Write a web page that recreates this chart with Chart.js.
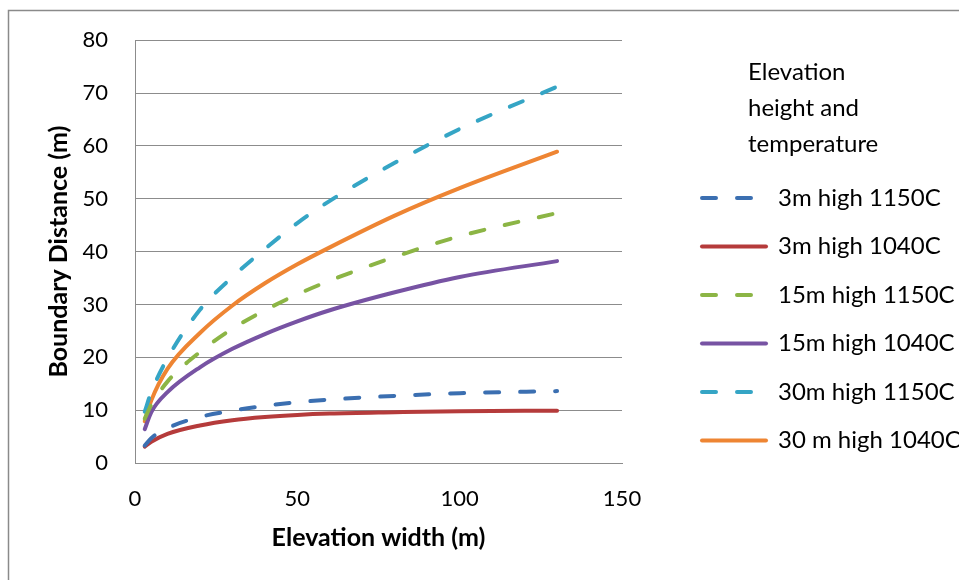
<!DOCTYPE html>
<html>
<head>
<meta charset="utf-8">
<script src="https://cdn.jsdelivr.net/npm/chart.js@4.4.1/dist/chart.umd.min.js"></script>
<style>
html,body{margin:0;padding:0;background:#fff;}
#wrap{position:relative;width:959px;height:580px;overflow:hidden;}
</style>
</head>
<body>
<div id="wrap"><canvas id="c" width="959" height="580"></canvas></div>
<script>
// ---- data ----
const widths = [3, 5, 10, 20, 30, 40, 50, 60, 80, 100, 130];
const h3_1150  = [3.3, 4.7, 6.6, 8.7, 9.9, 10.8, 11.5, 12.0, 12.7, 13.2, 13.6];
const h3_1040  = [3.1, 4.0, 5.5, 7.1, 8.1, 8.7, 9.1, 9.35, 9.6, 9.8, 9.9];
const h15_1150 = [8.4, 11.0, 15.4, 21.0, 25.4, 28.9, 31.9, 34.5, 39.0, 42.9, 47.3];
const h15_1040 = [6.4, 9.6, 13.4, 18.1, 21.6, 24.4, 26.8, 28.9, 32.3, 35.2, 38.2];
const h30_1150 = [9.7, 13.4, 19.8, 29.0, 35.2, 40.5, 45.4, 49.6, 56.8, 63.2, 71.2];
const h30_1040 = [7.9, 11.8, 17.8, 24.6, 29.8, 34.0, 37.6, 40.8, 46.8, 52.0, 58.9];
const seriesNames = ['3m high 1150C', '3m high 1040C', '15m high 1150C', '15m high 1040C', '30m high 1150C', '30 m high 1040C'];
const xTicks = [0, 50, 100, 150];
const yTicks = [0, 10, 20, 30, 40, 50, 60, 70, 80];
const legendTitle = ['Elevation', 'height and', 'temperature'];
const xTitle = 'Elevation width (m)';
const yTitle = 'Boundary Distance (m)';

const seriesValues = [h3_1150, h3_1040, h15_1150, h15_1040, h30_1150, h30_1040];
const seriesColors = ['#3b6fb1', '#b53b3b', '#8cb545', '#7753a3', '#35a5c5', '#ee8533'];
const seriesDashed = [true, false, true, false, true, false];

const datasets = seriesValues.map((vals, i) => ({
  label: seriesNames[i],
  data: widths.map((w, j) => ({x: w, y: vals[j]})),
  borderColor: seriesColors[i],
  backgroundColor: seriesColors[i],
  borderWidth: 4,
  borderDash: seriesDashed[i] ? [14, 21] : [],
  borderCapStyle: 'round',
  borderJoinStyle: 'round',
  pointRadius: 0,
  pointHoverRadius: 0,
  cubicInterpolationMode: 'monotone',
  fill: false
}));

const W = 959, H = 580;
const plotLeft = 135, plotRight = 622, plotTop = 40, plotBottom = 463;

const layoutFix = {
  id: 'layoutFix',
  afterInit(chart) {
    const lg = chart.legend;
    const origFit = lg.fit.bind(lg);
    lg.fit = function () { origFit(); this.width = W - plotRight; };
  },
  afterLayout(chart) {
    const lg = chart.legend;
    const dx = 677.5 - lg.left;
    lg.left += dx; lg.right += dx;
  },
  beforeDraw(chart) {
    const ctx = chart.ctx;
    ctx.save();
    ctx.fillStyle = '#fff';
    ctx.fillRect(0, 0, W, H);
    ctx.strokeStyle = '#8a8a8a';
    ctx.lineWidth = 1.5;
    ctx.strokeRect(8.5, 10.5, 2000, 2000);
    ctx.restore();
  },
  afterDraw(chart) {
    const ctx = chart.ctx;
    ctx.save();
    ctx.font = '24px Lato';
    ctx.fillStyle = '#000';
    ctx.textBaseline = 'alphabetic';
    ctx.textAlign = 'left';
    legendTitle.forEach((t, i) => ctx.fillText(t, 748, 80 + i * 36));
    ctx.restore();
  }
};

new Chart(document.getElementById('c'), {
  type: 'line',
  data: { datasets },
  plugins: [layoutFix],
  options: {
    responsive: false,
    animation: false,
    events: [],
    layout: { padding: { top: plotTop, left: 0, right: 0, bottom: 0 } },
    plugins: {
      tooltip: { enabled: false },
      legend: {
        display: true,
        position: 'right',
        align: 'start',
        title: { display: true, text: '', padding: { top: 107, bottom: 0 }, font: { size: 12 } },
        labels: {
          usePointStyle: true,
          pointStyle: 'line',
          pointStyleWidth: 64,
          boxWidth: 64,
          padding: 24.5,
          color: '#000',
          font: { family: 'Lato', size: 24 },
          generateLabels: (chart) => {
            const items = Chart.defaults.plugins.legend.labels.generateLabels(chart);
            items.forEach(it => {
              const ds = chart.data.datasets[it.datasetIndex];
              it.lineDash = ds.borderDash;
              it.lineWidth = ds.borderWidth;
              it.strokeStyle = ds.borderColor;
              it.lineCap = 'round';
              it.rotation = 180;
            });
            return items;
          }
        }
      }
    },
    scales: {
      x: {
        type: 'linear',
        min: 0, max: 150,
        afterBuildTicks: s => { s.ticks = xTicks.map(v => ({value: v})); },
        afterFit: s => { s.height = H - plotBottom; },
        grid: { display: false, drawTicks: false },
        border: { display: true, color: '#8c8c8c', width: 1 },
        ticks: { color: '#000', font: { family: 'Lato', size: 22 }, padding: 22.8, maxRotation: 0 },
        title: { display: true, text: xTitle, color: '#000', font: { family: 'Lato', size: 25, weight: 'bold' }, padding: { top: 0, bottom: 27 } }
      },
      y: {
        type: 'linear',
        min: 0, max: 80,
        afterBuildTicks: s => { s.ticks = yTicks.map(v => ({value: v})); },
        afterFit: s => { s.width = plotLeft; },
        grid: { display: true, color: '#8c8c8c', lineWidth: 1, drawTicks: false },
        border: { display: true, color: '#8c8c8c', width: 1 },
        ticks: { color: '#000', font: { family: 'Lato', size: 22 }, padding: 27 },
        title: { display: true, text: yTitle, color: '#000', font: { family: 'Lato', size: 25, weight: 'bold' }, padding: { top: 44, bottom: 0 } }
      }
    }
  }
});
</script>
</body>
</html>
